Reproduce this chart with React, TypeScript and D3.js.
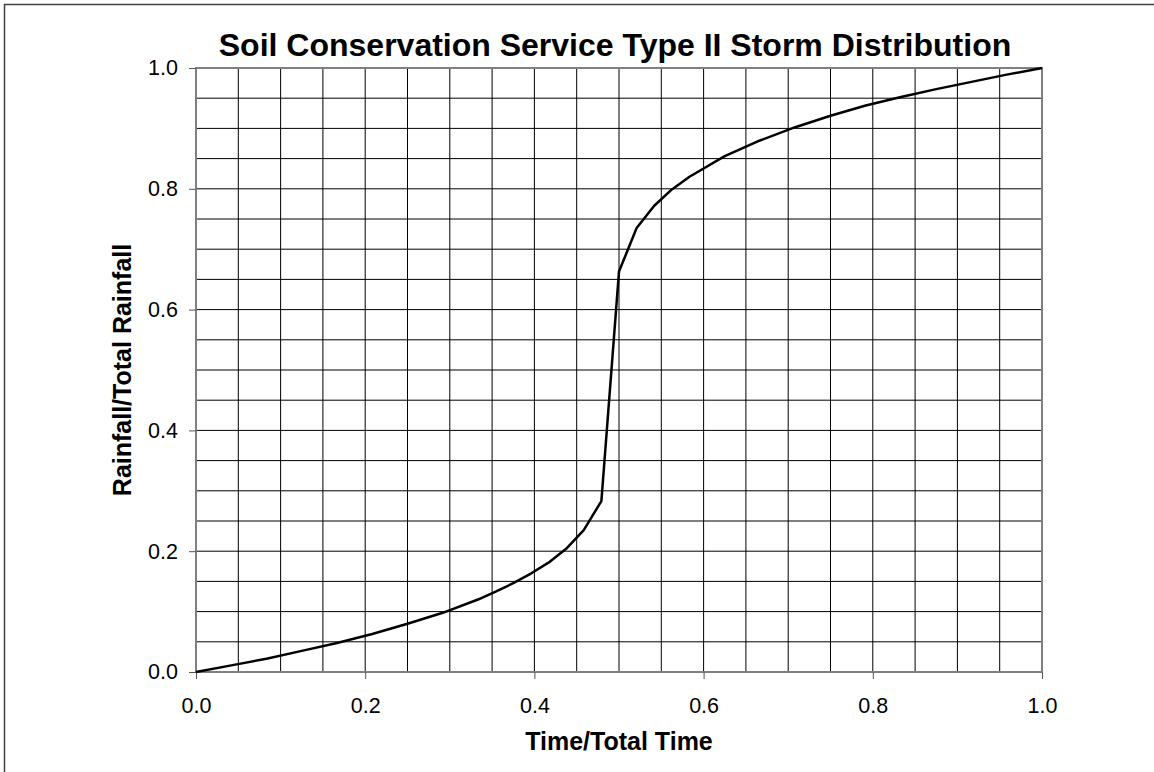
import * as d3 from 'd3';
import React, { useEffect, useRef } from 'react';

// SCS Type II, 24 hour storm: time in hours, cumulative fraction of total rainfall
const hours = [0, 1, 2, 3, 4, 5, 6, 7, 8, 8.5, 9, 9.5, 10, 10.5, 11, 11.5, 12, 12.5, 13, 13.5, 14, 15, 16, 17, 18, 19, 20, 21, 22, 23, 24];
const rainFraction = [0, 0.011, 0.022, 0.035, 0.048, 0.063, 0.080, 0.098, 0.120, 0.133, 0.147, 0.163, 0.181, 0.204, 0.235, 0.283, 0.663, 0.735, 0.772, 0.799, 0.820, 0.854, 0.880, 0.902, 0.921, 0.938, 0.952, 0.965, 0.977, 0.989, 1.0];
const tickValues = [0, 0.2, 0.4, 0.6, 0.8, 1.0];
const gridValues = d3.range(0, 21).map(i => i / 20);

const chartTitle = "Soil Conservation Service Type II Storm Distribution";
const xTitle = "Time/Total Time";
const yTitle = "Rainfall/Total Rainfall";

function App() {
    const chartRef = useRef<SVGSVGElement | null>(null);

    useEffect(() => {
        document.body.style.margin = "0";
        const svgWidth = 1154;
        const svgHeight = 772;
        const margin = { top: 68, right: 112, bottom: 100, left: 196 };
        const width = svgWidth - margin.left - margin.right;
        const height = svgHeight - margin.top - margin.bottom;
        const font = "'Liberation Sans', Arial, sans-serif";

        const root = d3.select(chartRef.current);
        root.selectAll("*").remove();

        // outer frame, right and bottom edges fall off the picture
        root.append("rect")
            .attr("x", 4.5).attr("y", 4.5)
            .attr("width", svgWidth + 20).attr("height", svgHeight + 20)
            .attr("fill", "white")
            .attr("stroke", "#404040")
            .attr("stroke-width", 1.5);

        const svg = root.append("g")
            .attr("transform", `translate(${margin.left},${margin.top})`);

        const x = d3.scaleLinear().domain([0, 1]).range([0, width]);
        const y = d3.scaleLinear().domain([0, 1]).range([height, 0]);

        // grid
        svg.append("g").selectAll("line")
            .data(gridValues)
            .enter().append("line")
            .attr("x1", d => x(d)).attr("x2", d => x(d))
            .attr("y1", 0).attr("y2", height)
            .attr("stroke", "black").attr("stroke-width", 1);
        svg.append("g").selectAll("line")
            .data(gridValues)
            .enter().append("line")
            .attr("x1", 0).attr("x2", width)
            .attr("y1", d => y(d)).attr("y2", d => y(d))
            .attr("stroke", "black").attr("stroke-width", 1);

        // plot border
        svg.append("rect")
            .attr("x", 0).attr("y", 0)
            .attr("width", width).attr("height", height)
            .attr("fill", "none")
            .attr("stroke", "#808080")
            .attr("stroke-width", 2);

        // axes
        const xAxis = svg.append("g")
            .attr("transform", `translate(0,${height})`)
            .call(d3.axisBottom(x).tickValues(tickValues).tickFormat(d3.format(".1f")).tickSize(7).tickPadding(19));
        const yAxis = svg.append("g")
            .call(d3.axisLeft(y).tickValues(tickValues).tickFormat(d3.format(".1f")).tickSize(7).tickPadding(11));
        [xAxis, yAxis].forEach(a => {
            a.select(".domain").remove();
            a.selectAll("line").attr("stroke", "#555");
            a.selectAll("text")
                .attr("font-family", font)
                .attr("font-size", "21.5px")
                .attr("fill", "black");
        });

        // curve
        const points = hours.map((h, i) => [h / 24, rainFraction[i]] as [number, number]);
        svg.append("path")
            .datum(points)
            .attr("d", d3.line<[number, number]>().x(d => x(d[0])).y(d => y(d[1])))
            .attr("fill", "none")
            .attr("stroke", "black")
            .attr("stroke-width", 2.5)
            .attr("stroke-linejoin", "round");

        // titles
        root.append("text")
            .attr("x", 615).attr("y", 56)
            .attr("text-anchor", "middle")
            .attr("font-family", font)
            .attr("font-weight", "bold")
            .attr("font-size", "32px")
            .text(chartTitle);

        root.append("text")
            .attr("x", margin.left + width / 2).attr("y", 750)
            .attr("text-anchor", "middle")
            .attr("font-family", font)
            .attr("font-weight", "bold")
            .attr("font-size", "25px")
            .text(xTitle);

        root.append("text")
            .attr("transform", `translate(131,${margin.top + height / 2}) rotate(-90)`)
            .attr("text-anchor", "middle")
            .attr("font-family", font)
            .attr("font-weight", "bold")
            .attr("font-size", "25px")
            .text(yTitle);
    }, []);

    return <svg ref={chartRef} width={1154} height={772} style={{ display: "block" }} />;
}

export default App;
